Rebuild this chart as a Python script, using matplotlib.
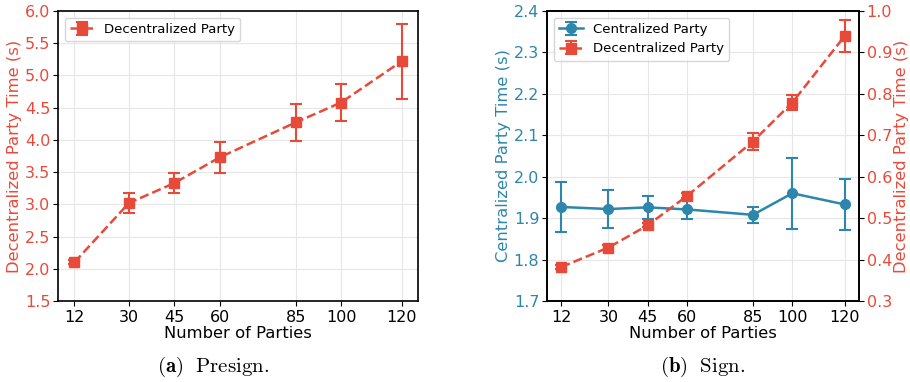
import matplotlib
matplotlib.use("Agg")
import matplotlib.pyplot as plt

plt.rcParams['mathtext.fontset'] = 'cm'

parties = [12, 30, 45, 60, 85, 100, 120]

# (a) Presign
presign_dec = [2.10, 3.02, 3.33, 3.73, 4.27, 4.58, 5.22]
presign_dec_err = [0.03, 0.16, 0.16, 0.24, 0.29, 0.29, 0.58]

# (b) Sign
sign_cen = [1.927, 1.922, 1.926, 1.921, 1.908, 1.960, 1.933]
sign_cen_err = [0.060, 0.046, 0.028, 0.023, 0.019, 0.085, 0.061]
sign_dec = [0.382, 0.429, 0.483, 0.554, 0.685, 0.779, 0.940]
sign_dec_err = [0.005, 0.005, 0.005, 0.006, 0.020, 0.019, 0.039]

BLUE = '#2E86AB'
RED = '#E84A3A'
TICK = 11.5
LAB = 11.8

fig = plt.figure(figsize=(9.1, 3.82), dpi=100)
ax1 = fig.add_axes([58/910, 1 - 301/382, 360/910, 290/382])
ax2 = fig.add_axes([547/910, 1 - 301/382, 312/910, 290/382])

# left panel
ax1.errorbar(parties, presign_dec, yerr=presign_dec_err, color=RED, marker='s',
             markersize=7, linestyle='--', linewidth=1.8, capsize=4,
             elinewidth=1.5, capthick=1.5, label='Decentralized Party')
ax1.set_ylim(1.5, 6.0)
ax1.set_xticks(parties)
ax1.set_xlabel('Number of Parties', fontsize=LAB, labelpad=1)
ax1.set_ylabel('Decentralized Party Time (s)', fontsize=LAB, color=RED, labelpad=2)
ax1.tick_params(axis='y', labelcolor=RED, labelsize=TICK, pad=2)
ax1.tick_params(axis='x', labelsize=TICK, pad=3)
ax1.grid(True, color='#e6e6e6', linewidth=0.8)
ax1.set_axisbelow(True)
ax1.legend(loc='upper left', fontsize=9.5, handlelength=1.8)

# right panel
ax2.errorbar(parties, sign_cen, yerr=sign_cen_err, color=BLUE, marker='o',
             markersize=7, linestyle='-', linewidth=1.8, capsize=4,
             elinewidth=1.5, capthick=1.5, label='Centralized Party')
ax2.set_ylim(1.7, 2.4)
ax2.set_xticks(parties)
ax2.set_xlabel('Number of Parties', fontsize=LAB, labelpad=1)
ax2.set_ylabel('Centralized Party Time (s)', fontsize=LAB, color=BLUE, labelpad=2)
ax2.tick_params(axis='y', labelcolor=BLUE, labelsize=TICK, pad=2)
ax2.tick_params(axis='x', labelsize=TICK, pad=3)
ax2.grid(True, color='#e6e6e6', linewidth=0.8)
ax2.set_axisbelow(True)

ax3 = ax2.twinx()
ax3.errorbar(parties, sign_dec, yerr=sign_dec_err, color=RED, marker='s',
             markersize=7, linestyle='--', linewidth=1.8, capsize=4,
             elinewidth=1.5, capthick=1.5, label='Decentralized Party')
ax3.set_ylim(0.3, 1.0)
ax3.set_ylabel('Decentralized Party Time (s)', fontsize=LAB, color=RED, labelpad=1)
ax3.tick_params(axis='y', labelcolor=RED, labelsize=TICK, pad=2)

h1, l1 = ax2.get_legend_handles_labels()
h2, l2 = ax3.get_legend_handles_labels()
ax2.legend(h1 + h2, l1 + l2, loc='upper left', fontsize=9.5, handlelength=1.8)

for ax in (ax1, ax2, ax3):
    for s in ax.spines.values():
        s.set_linewidth(1.2)

fig.text(213/910, 1 - 367/382, r'$\mathbf{(a)}\ \ \mathrm{Presign.}$',
         ha='center', va='center', fontsize=15)
fig.text(703/910, 1 - 367/382, r'$\mathbf{(b)}\ \ \mathrm{Sign.}$',
         ha='center', va='center', fontsize=15)

fig.savefig('out.png', dpi=100)
